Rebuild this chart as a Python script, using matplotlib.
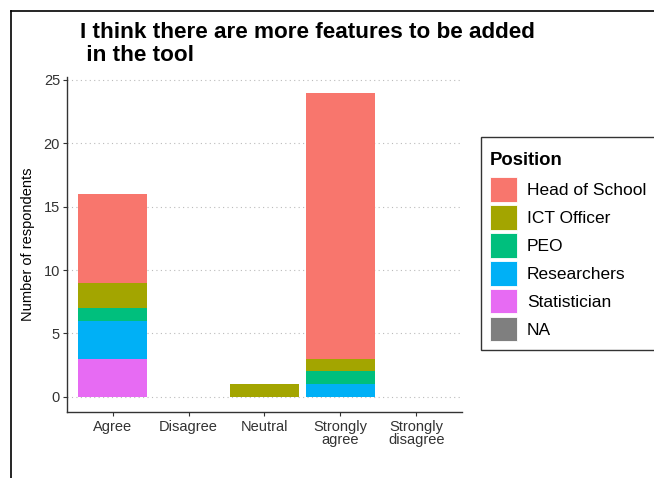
import numpy as np
import matplotlib.pyplot as plt
from matplotlib.patches import Patch
from matplotlib.lines import Line2D

plt.rcParams['font.family'] = ['Liberation Sans', 'DejaVu Sans']

categories = ["Agree", "Disagree", "Neutral", "Strongly\nagree", "Strongly\ndisagree"]
positions = ["Head of School", "ICT Officer", "PEO", "Researchers", "Statistician", "NA"]
colors = ["#F8766D", "#A3A500", "#00BF7D", "#00B0F6", "#E76BF3", "#7F7F7F"]

# counts per position, one value per category
head_of_school = [7, 0, 0, 21, 0]
ict_officer = [2, 0, 1, 1, 0]
peo = [1, 0, 0, 1, 0]
researchers = [3, 0, 0, 1, 0]
statistician = [3, 0, 0, 0, 0]
na = [0, 0, 0, 0, 0]

# stacking order from the bottom
stack = [statistician, researchers, peo, ict_officer, head_of_school]
stack_colors = [colors[4], colors[3], colors[2], colors[1], colors[0]]

fig = plt.figure(figsize=(6.54, 4.78), dpi=100)
ax = fig.add_axes([0.1024, 0.138, 0.604, 0.700])

x = np.arange(1, len(categories) + 1)
bottom = np.zeros(len(categories))
for vals, c in zip(stack, stack_colors):
    vals = np.array(vals, dtype=float)
    ax.bar(x, vals, width=0.9, bottom=bottom, color=c, linewidth=0)
    bottom += vals

ax.set_xlim(0.4, 5.6)
ax.set_ylim(-1.2, 25.2)
ax.set_yticks([0, 5, 10, 15, 20, 25])
ax.set_xticks(x)
ax.set_xticklabels(categories, fontsize=10.5, color="#333333", linespacing=0.9)
ax.tick_params(axis="y", labelsize=10.5, labelcolor="#333333", color="#333333", length=3, pad=2)
ax.tick_params(axis="x", color="#333333", length=3, pad=3)
ax.yaxis.grid(True, linestyle=(0, (1, 3)), color="#BBBBBB", linewidth=0.8)
ax.set_axisbelow(True)
for s in ["top", "right"]:
    ax.spines[s].set_visible(False)
for s in ["left", "bottom"]:
    ax.spines[s].set_color("#333333")
    ax.spines[s].set_linewidth(1.0)
ax.set_ylabel("Number of respondents", fontsize=10.5, labelpad=6)

fig.text(0.122, 0.955, "I think there are more features to be added\n in the tool",
         fontsize=16.2, fontweight="bold", ha="left", va="top", linespacing=1.18)

handles = [Patch(facecolor=c, edgecolor="white", linewidth=0.6) for c in colors]
leg = fig.legend(handles, positions, title="Position", loc="upper left",
                 bbox_to_anchor=(0.7355, 0.713), borderaxespad=0, frameon=True,
                 fontsize=12.5, title_fontproperties={"weight": "bold", "size": 13.3},
                 handlelength=1.55, handleheight=1.8, handletextpad=0.6,
                 labelspacing=0.19, borderpad=0.5, fancybox=False)
leg._legend_box.align = "left"
leg._legend_box.sep = 10.5
leg.get_title().set_y(-6)
leg.get_frame().set_edgecolor("black")
leg.get_frame().set_linewidth(1.0)

# screenshot frame
fig.add_artist(Line2D([0.017, 0.017], [0, 0.977], color="black", linewidth=1.2))
fig.add_artist(Line2D([0.017, 1.0], [0.977, 0.977], color="black", linewidth=1.2))

fig.savefig("out.png", dpi=100)
